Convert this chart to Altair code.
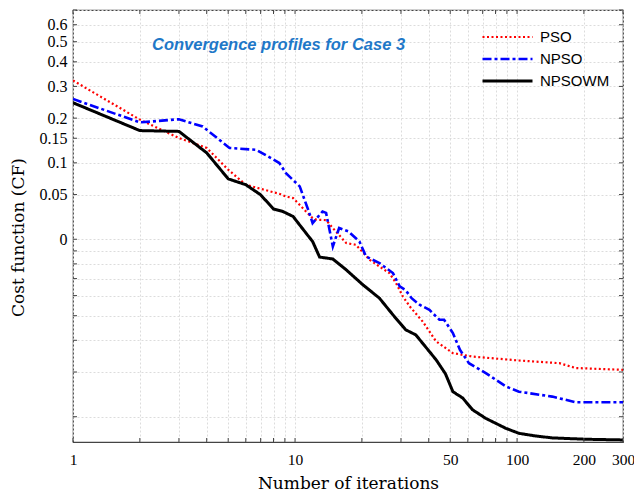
import altair as alt
import pandas as pd

# ---------------- data ----------------
series_names = ["PSO", "NPSO", "NPSOWM"]
series_colors = ["#ff0000", "#0000ff", "#000000"]

pso_iter = [1, 2, 3, 4, 5, 6, 7.2, 8.5, 9.1, 9.8, 11.2, 12, 12.5, 13.8, 14.8, 17, 18.8,
            21.7, 24, 26.6, 28.5, 30.6, 32.9, 37.6, 43.2, 51.4, 55.3, 63, 102, 155, 184, 300]
pso_cost = [0.322, 0.196, 0.1505, 0.129, 0.088, 0.064, 0.057, 0.051, 0.0475, 0.0453, 0.0287,
            0.0212, 0.0194, 0.019, 0.0107, -0.0034, -0.0049, -0.017, -0.0219, -0.0264, -0.0328,
            -0.0405, -0.0457, -0.0526, -0.0604, -0.0644, -0.0648, -0.0655, -0.0667, -0.0675,
            -0.0689, -0.0694]

npso_iter = [1, 2, 3, 3.84, 5.07, 6.7, 8.5, 9.1, 10.5, 11.6, 12, 13.3, 13.8, 14.8, 15.8, 17.4,
             19.5, 20.9, 24, 27.6, 29.6, 31.5, 33.5, 36.4, 40.3, 44.7, 46.9, 51.4, 55.3, 60.7,
             72.3, 89.2, 102, 144, 184, 300]
npso_cost = [0.257, 0.1886, 0.197, 0.178, 0.129, 0.125, 0.0997, 0.082, 0.0615, 0.0268, 0.0158,
             0.0287, 0.027, -0.0063, 0.0107, 0.0073, -0.002, -0.0145, -0.0194, -0.0264, -0.0348,
             -0.037, -0.0414, -0.0448, -0.0473, -0.0518, -0.0518, -0.0573, -0.0633, -0.0675,
             -0.0703, -0.0737, -0.0749, -0.076, -0.0772, -0.0772]

npsowm_iter = [1, 2, 3, 4, 5, 6, 7, 8, 8.8, 9.8, 11.2, 12, 12.9, 14.8, 17, 20.2, 24, 27.6, 31.5,
               35, 40.3, 43.2, 47.6, 51.4, 56.9, 63, 72.3, 89, 102, 121, 144, 205, 300]
npsowm_cost = [0.245, 0.168, 0.166, 0.119, 0.073, 0.064, 0.0497, 0.0315, 0.0287, 0.023, 0.0058,
               -0.002, -0.0149, -0.0164, -0.0242, -0.0338, -0.0414, -0.0496, -0.056, -0.058,
               -0.0639, -0.0665, -0.0705, -0.0749, -0.0763, -0.0787, -0.0803, -0.082, -0.0828,
               -0.0832, -0.0835, -0.0837, -0.0838]

# axis ticks / labels
x_grid = [1, 2, 3, 4, 5, 6, 7, 8, 9, 10, 20, 30, 40, 50, 60, 70, 80, 90, 100, 200, 300]
x_labels = [1, 10, 50, 100, 200, 300]
y_labels = [0.6, 0.5, 0.4, 0.3, 0.2, 0.15, 0.1, 0.05, 0]
OFFSET = 0.1  # the y axis is logarithmic in (cost + 0.1)
y_grid = [0.02, 0.03, 0.04, 0.05, 0.06, 0.07, 0.08, 0.09, 0.1, 0.15, 0.2, 0.25,
          0.3, 0.4, 0.5, 0.6, 0.7, 0.8]
y_label_pos = [round(c + OFFSET, 2) for c in y_labels]

title_text = "Convergence profiles for Case 3"

# ---------------- build table ----------------
rows = []
for name, xs, ys in [("PSO", pso_iter, pso_cost), ("NPSO", npso_iter, npso_cost),
                     ("NPSOWM", npsowm_iter, npsowm_cost)]:
    for i, (x, y) in enumerate(zip(xs, ys)):
        rows.append({"series": name, "iteration": x, "cost": y, "order": i})
df = pd.DataFrame(rows)

W, H = 550, 432
SERIF = "DejaVu Serif"
LSERIF = "Liberation Serif"

xscale = alt.Scale(type="log", domain=[1, 300], nice=False)
yscale = alt.Scale(type="log", domain=[0.0159, 0.8], nice=False)

x_label_str = ",".join(str(v) for v in x_labels)
y_label_str = ",".join(str(v) for v in y_label_pos)

GRID = "#dcdcdc"

x_axis = alt.Axis(
    values=x_grid, title="Number of iterations",
    labelExpr=f"indexof([{x_label_str}], datum.value) >= 0 ? '' + datum.value : ''",
    ticks=False, domain=False, labelFont=LSERIF, labelFontSize=15.5, labelColor="#000",
    labelPadding=10, labelFlush=False, labelOverlap=False,
    titleFont=SERIF, titleFontSize=17, titleFontWeight="normal", titleColor="#000",
    titleY=46, titleBaseline="alphabetic",
    grid=True, gridColor=GRID, gridDash=[2, 2], gridWidth=1,
)
y_axis = alt.Axis(
    values=y_grid, title="Cost function (CF)",
    labelExpr=f"indexof([{y_label_str}], datum.value) >= 0 ? format(datum.value - {OFFSET}, '.2~f') : ''",
    ticks=False, domain=False, labelFont=LSERIF, labelFontSize=16, labelColor="#000",
    labelPadding=6, labelOverlap=False, labelFlush=False,
    titleFont=SERIF, titleFontSize=17, titleFontWeight="normal", titleColor="#000",
    titleX=-55, titleY=227, titleAngle=-90, titleBaseline="middle", titleAlign="center",
    grid=True, gridColor=GRID, gridDash=[2, 2], gridWidth=1,
)

def xenc():
    return alt.X("iteration:Q", scale=xscale, axis=x_axis)

def yenc():
    return alt.Y("v:Q", scale=yscale, axis=y_axis)

legend = alt.Legend(
    orient="none", legendX=427, legendY=19.5, title=None, padding=0,
    symbolType="M-5,0H5", symbolSize=100, labelFont="Liberation Sans",
    labelFontSize=15, labelColor="#000", labelOffset=25, rowPadding=6,
)

lines = alt.Chart(df).transform_calculate(
    v=f"datum.cost + {OFFSET}"
).mark_line(clip=True).encode(
    x=xenc(),
    y=yenc(),
    color=alt.Color("series:N", scale=alt.Scale(domain=series_names, range=series_colors), legend=legend),
    strokeDash=alt.StrokeDash("series:N", scale=alt.Scale(domain=series_names,
                              range=[[2, 2.5], [9, 3, 3, 3], [1, 0]]), legend=legend),
    strokeWidth=alt.StrokeWidth("series:N", scale=alt.Scale(domain=series_names,
                                range=[2.2, 3, 4]), legend=legend),
    order="order:Q",
)

tick_color = "#444"
xt = pd.DataFrame({"iteration": x_grid})
yt = pd.DataFrame({"v": y_grid})
bottom_ticks = alt.Chart(xt).mark_rule(color=tick_color, strokeWidth=1).encode(
    x=xenc(), y=alt.value(H), y2=alt.value(H - 4))
top_ticks = alt.Chart(xt).mark_rule(color=tick_color, strokeWidth=1).encode(
    x=xenc(), y=alt.value(0), y2=alt.value(4))
left_ticks = alt.Chart(yt).mark_rule(color=tick_color, strokeWidth=1).encode(
    y=yenc(), x=alt.value(0), x2=alt.value(4))
right_ticks = alt.Chart(yt).mark_rule(color=tick_color, strokeWidth=1).encode(
    y=yenc(), x=alt.value(W - 4), x2=alt.value(W))

title = alt.Chart(pd.DataFrame({"label": [title_text]})).mark_text(
    align="left", baseline="middle", font="Liberation Sans", fontSize=16.5,
    fontStyle="italic", fontWeight="bold", color="#1f78c8",
).encode(text="label:N", x=alt.value(79), y=alt.value(34.7))

chart = alt.layer(lines, bottom_ticks, top_ticks, left_ticks, right_ticks, title).properties(
    width=W, height=H,
    autosize=alt.AutoSizeParams(type="none"),
    padding={"left": 73, "top": 10, "right": 11, "bottom": 49},
    background="white",
).configure_view(stroke="#444", strokeWidth=1.2)

chart.save("out.html", embed_options={"renderer": "svg", "actions": False})
